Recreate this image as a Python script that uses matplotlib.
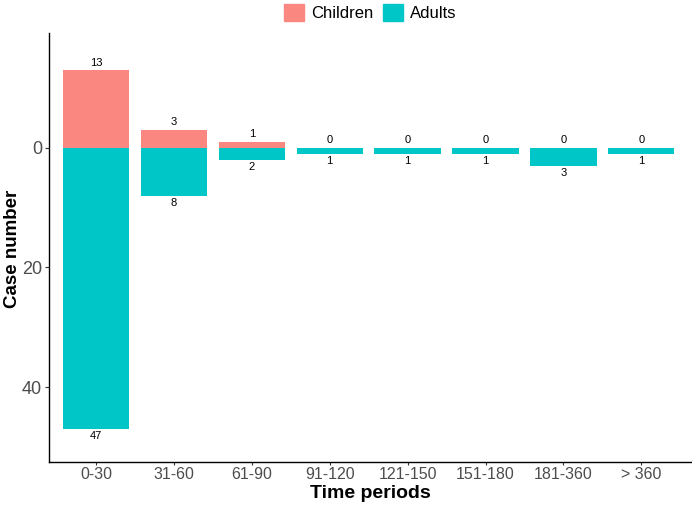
import numpy as np
import matplotlib.pyplot as plt
from matplotlib.patches import Patch

periods = ['0-30', '31-60', '61-90', '91-120', '121-150', '151-180', '181-360', '> 360']
children = [13, 3, 1, 0, 0, 0, 0, 0]
adults = [47, 8, 2, 1, 1, 1, 3, 1]
y_ticks = [0, -20, -40]
y_tick_labels = ['0', '20', '40']

col_child = '#FA8880'
col_adult = '#00C6C8'

plt.rcParams['font.family'] = ['Liberation Sans', 'DejaVu Sans']

fig = plt.figure(figsize=(6.92, 5.07), dpi=100)
ax = fig.add_axes([0.071, 0.089, 0.929, 0.846])

x = np.arange(1, len(periods) + 1)
w = 0.85
ax.bar(x, children, width=w, color=col_child)
ax.bar(x, [-a for a in adults], width=w, color=col_adult)

for xi, c, a in zip(x, children, adults):
    ax.text(xi, c + 0.4, str(c), ha='center', va='bottom', fontsize=8)
    ax.text(xi, -a - 0.4, str(a), ha='center', va='top', fontsize=8)

ax.set_xlim(0.4, 8.65)
ax.set_ylim(-52.5, 19.2)
ax.set_xticks(x)
ax.set_xticklabels(periods, fontsize=11.5, color='#4d4d4d')
ax.set_yticks(y_ticks)
ax.set_yticklabels(y_tick_labels, fontsize=13, color='#4d4d4d')
ax.tick_params(axis='x', length=2.5, pad=1.5, color='#333333')
ax.tick_params(axis='y', length=3, pad=2, color='#333333')

for s in ['top', 'right']:
    ax.spines[s].set_visible(False)
for s in ['left', 'bottom']:
    ax.spines[s].set_color('black')
    ax.spines[s].set_linewidth(1.0)

fig.text(0.535, 0.026, 'Time periods', ha='center', va='center', fontsize=14, fontweight='bold')
fig.text(0.018, 0.51, 'Case number', ha='center', va='center', rotation=90,
         fontsize=13.5, fontweight='bold')

handles = [Patch(color=col_child, label='Children'), Patch(color=col_adult, label='Adults')]
fig.legend(handles=handles, loc='upper center', bbox_to_anchor=(0.535, 1.022), ncol=2,
           frameon=False, fontsize=12, handlelength=1.2, handleheight=1.2,
           handletextpad=0.4, columnspacing=0.6)

fig.savefig('out.png', dpi=100)
